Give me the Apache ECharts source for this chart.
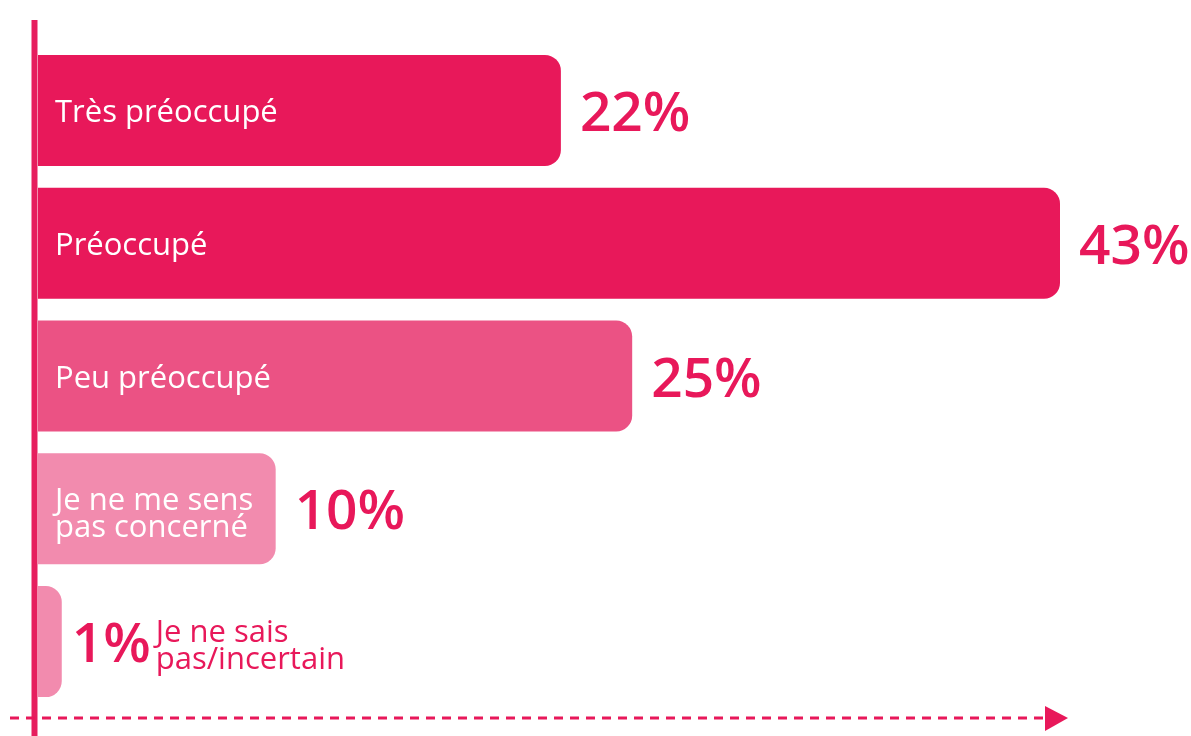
<!DOCTYPE html>
<html>
<head>
<meta charset="utf-8">
<script src="https://cdn.jsdelivr.net/npm/echarts@6/dist/echarts.min.js"></script>
<style>
html,body{margin:0;padding:0;background:#fff;}
#chart{width:1191px;height:736px;}
</style>
</head>
<body>
<div id="chart"></div>
<script>
const categories = ['Très préoccupé', 'Préoccupé', 'Peu préoccupé', 'Je ne me sens\npas concerné', 'Je ne sais\npas/incertain'];
const values = [22, 43, 25, 10, 1];
const valueLabels = ['22%', '43%', '25%', '10%', '1%'];
const barColors = ['#E8185A', '#E8185A', '#EB5284', '#F28BAE', '#F28BAE'];

const PINK = '#E8185A';
const FONT = '"Open Sans", "Noto Sans", sans-serif';

const chart = echarts.init(document.getElementById('chart'), null, {renderer: 'canvas'});

const barData = values.map((v, i) => {
  const last = i === values.length - 1;
  const multi = categories[i].indexOf('\n') >= 0;
  return {
    value: v,
    itemStyle: {color: barColors[i]},
    label: last ? {
      show: true,
      position: 'right',
      distance: 94,
      offset: [0, 5],
      color: PINK,
      fontSize: 31,
      lineHeight: 27,
      fontFamily: FONT,
      formatter: () => categories[i]
    } : {
      show: true,
      position: 'insideLeft',
      distance: 17,
      offset: [0, multi ? 6 : 3],
      color: '#ffffff',
      fontSize: 31,
      lineHeight: 27,
      fontFamily: FONT,
      formatter: () => categories[i]
    }
  };
});

const valueData = values.map((v, i) => ({
  value: v,
  label: {distance: i === values.length - 1 ? 10 : 19}
}));

chart.setOption({
  animation: false,
  grid: {left: 38, width: 1022, top: 44, bottom: 28},
  xAxis: {type: 'value', min: 0, max: 43, show: false},
  yAxis: {type: 'category', data: categories, inverse: true, show: false},
  series: [
    {
      type: 'bar',
      data: barData,
      barWidth: 111,
      silent: true,
      itemStyle: {borderRadius: [0, 16, 16, 0]},
      z: 2
    },
    {
      type: 'bar',
      data: valueData,
      barWidth: 111,
      barGap: '-100%',
      silent: true,
      itemStyle: {color: 'rgba(0,0,0,0)'},
      label: {
        show: true,
        position: 'right',
        offset: [0, 5],
        color: PINK,
        fontSize: 55,
        fontWeight: 600,
        fontFamily: FONT,
        formatter: p => valueLabels[p.dataIndex]
      },
      z: 3
    }
  ],
  graphic: [
    {
      type: 'line',
      shape: {x1: 34.5, y1: 20, x2: 34.5, y2: 736},
      style: {stroke: '#E61E5E', lineWidth: 6},
      z: 10
    },
    {
      type: 'line',
      shape: {x1: 10, y1: 718, x2: 1046, y2: 718},
      style: {stroke: PINK, lineWidth: 3, lineDash: [9, 7]},
      z: 10
    },
    {
      type: 'polygon',
      shape: {points: [[1045, 706], [1068, 718], [1045, 731]]},
      style: {fill: PINK},
      z: 10
    }
  ]
});
</script>
</body>
</html>
